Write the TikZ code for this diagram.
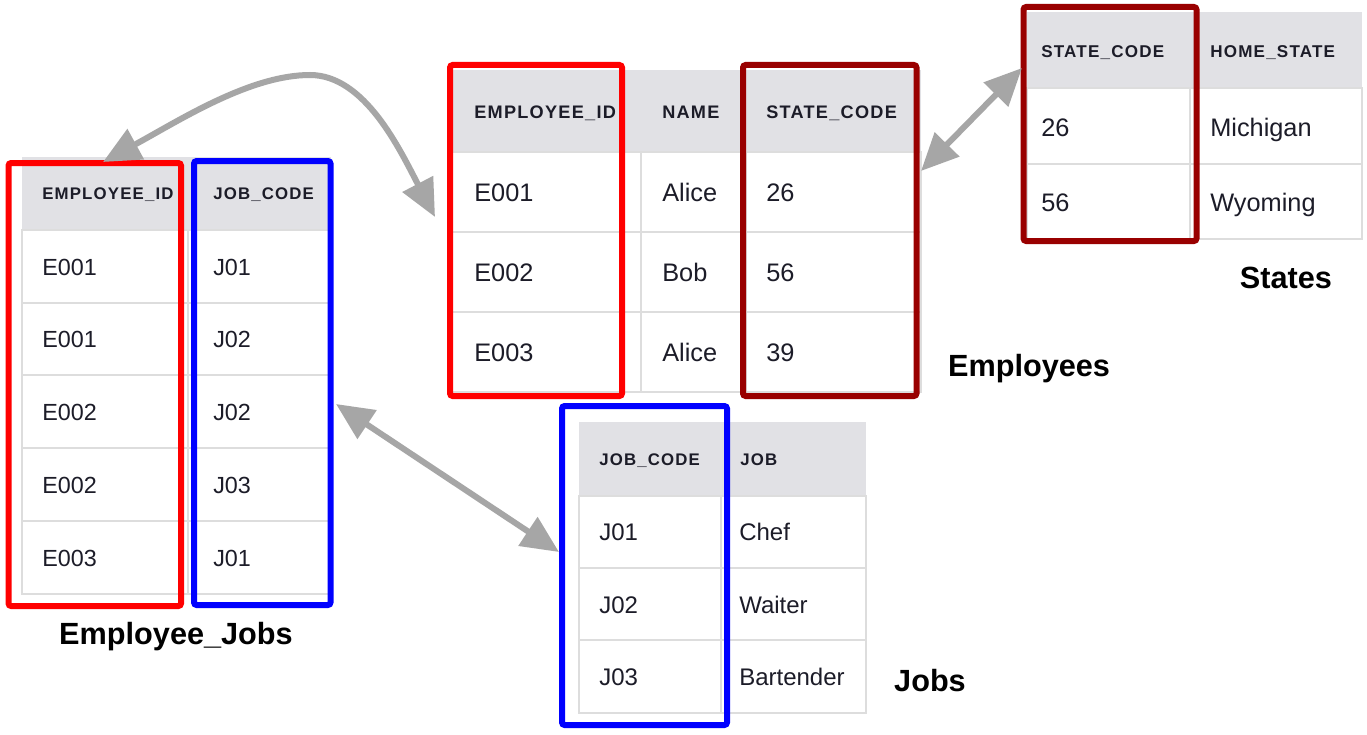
\documentclass[tikz,border=0pt]{standalone}
\usepackage{fontspec}
\setmainfont{Liberation Sans}
\newfontfamily\hdrfont[LetterSpace=7]{Liberation Sans}
\usetikzlibrary{arrows.meta}
\definecolor{hdrgrey}{HTML}{E1E1E5}
\definecolor{gridgrey}{HTML}{DDDDDD}
\definecolor{txt}{HTML}{1C1C28}
\definecolor{darkred}{HTML}{990000}
\definecolor{arrowgrey}{HTML}{A6A6A6}
\tikzset{
  cell/.style={anchor=base west, inner sep=0pt, text=txt},
  ejh/.style={cell, font=\hdrfont\bfseries\fontsize{12.6pt}{14pt}\selectfont},
  ejd/.style={cell, font=\fontsize{17.5pt}{20pt}\selectfont},
  emh/.style={cell, font=\hdrfont\bfseries\fontsize{13.6pt}{15pt}\selectfont},
  emd/.style={cell, font=\fontsize{19pt}{22pt}\selectfont},
  sth/.style={cell, font=\hdrfont\bfseries\fontsize{12.8pt}{14pt}\selectfont},
  std/.style={cell, font=\fontsize{19pt}{22pt}\selectfont},
  jbh/.style={cell, font=\hdrfont\bfseries\fontsize{12.6pt}{14pt}\selectfont},
  jbd/.style={cell, font=\fontsize{18pt}{21pt}\selectfont},
  tlabel/.style={anchor=base, inner sep=0pt, text=black, font=\bfseries\fontsize{23pt}{26pt}\selectfont},
  grid/.style={draw=gridgrey, line width=0.9pt},
  hl/.style={line width=4.5pt, rounded corners=2pt},
  conn/.style={draw=arrowgrey, line width=4.5pt,
    {Triangle[length=28pt,width=25pt]}-{Triangle[length=28pt,width=25pt]}},
}
\begin{document}
\begin{tikzpicture}[x=0.75pt,y=-0.75pt]
\useasboundingbox[fill=white] (0,0) rectangle (1367,735);

% ---------- Employee_Jobs table ----------
\fill[hdrgrey] (22,157) rectangle (331,230);
\draw[grid] (22,230) rectangle (331,594);
\foreach \yy in {303,375,448,521} \draw[grid] (22,\yy) -- (331,\yy);
\draw[grid] (188,230) -- (188,594);
\node[ejh] (ejh1) at (42,199) {EMPLOYEE\_ID};
\node[ejh] (ejh2) at (213,199) {JOB\_CODE};
\node[ejd] (ej11) at (42,275.4) {E001};  \node[ejd] (ej12) at (213,275.4) {J01};
\node[ejd] (ej21) at (42,347.4) {E001};  \node[ejd] (ej22) at (213,347.4) {J02};
\node[ejd] (ej31) at (42,420.4) {E002};  \node[ejd] (ej32) at (213,420.4) {J02};
\node[ejd] (ej41) at (42,493.4) {E002};  \node[ejd] (ej42) at (213,493.4) {J03};
\node[ejd] (ej51) at (42,566.4) {E003};  \node[ejd] (ej52) at (213,566.4) {J01};

% ---------- Employees table ----------
\fill[hdrgrey] (452,70) rectangle (921,152);
\draw[grid] (452,152) rectangle (921,392);
\foreach \yy in {232,312} \draw[grid] (452,\yy) -- (921,\yy);
\draw[grid] (641,152) -- (641,392);
\draw[grid] (746,152) -- (746,392);
\node[emh] (emh1) at (474,118.5) {EMPLOYEE\_ID};
\node[emh] (emh2) at (662,118.5) {NAME};
\node[emh] (emh3) at (766,118.5) {STATE\_CODE};
\node[emd] (em11) at (474,201.1) {E001}; \node[emd] (em12) at (662,201.1) {Alice}; \node[emd] (em13) at (766,201.1) {26};
\node[emd] (em21) at (474,281.1) {E002}; \node[emd] (em22) at (662,281.1) {Bob};   \node[emd] (em23) at (766,281.1) {56};
\node[emd] (em31) at (474,361.1) {E003}; \node[emd] (em32) at (662,361.1) {Alice}; \node[emd] (em33) at (766,361.1) {39};

% ---------- States table ----------
\fill[hdrgrey] (1027,12) rectangle (1362,88);
\draw[grid] (1027,88) rectangle (1362,239);
\draw[grid] (1027,164) -- (1362,164);
\draw[grid] (1190,88) -- (1190,239);
\node[sth] (sth1) at (1041,57.1) {STATE\_CODE};
\node[sth] (sth2) at (1210,57.1) {HOME\_STATE};
\node[std] (st11) at (1041,136.1) {26}; \node[std] (st12) at (1210,136.1) {Michigan};
\node[std] (st21) at (1041,211.1) {56}; \node[std] (st22) at (1210,211.1) {Wyoming};

% ---------- Jobs table ----------
\fill[hdrgrey] (579,422) rectangle (866,496);
\draw[grid] (579,496) rectangle (866,713);
\foreach \yy in {568,640} \draw[grid] (579,\yy) -- (866,\yy);
\draw[grid] (721,496) -- (721,713);
\node[jbh] (jbh1) at (599,465) {JOB\_CODE};
\node[jbh] (jbh2) at (740,465) {JOB};
\node[jbd] (jb11) at (599,540.6) {J01}; \node[jbd] (jb12) at (739,540.6) {Chef};
\node[jbd] (jb21) at (599,613.6) {J02}; \node[jbd] (jb22) at (739,613.6) {Waiter};
\node[jbd] (jb31) at (599,685.6) {J03}; \node[jbd] (jb32) at (739,685.6) {Bartender};

% ---------- highlight boxes ----------
\draw[hl, red] (8.5,163) rectangle (181,606);
\draw[hl, blue] (194,161) rectangle (330.5,605);
\draw[hl, red] (450,65) rectangle (622,396);
\draw[hl, darkred] (743,65) rectangle (916.5,396);
\draw[hl, darkred] (1023.5,7) rectangle (1196.5,241);
\draw[hl, blue] (562,406) rectangle (727,725);

% ---------- labels ----------
\node[tlabel] (lej) at (176,644) {Employee\_Jobs};
\node[tlabel] (lem) at (1029,376) {Employees};
\node[tlabel] (lst) at (1286,288) {States};
\node[tlabel] (ljb) at (930,691) {Jobs};

% ---------- connectors ----------
\coordinate (ejTop) at (103,162);
\coordinate (emLeft) at (435,217);
\coordinate (ejRight) at (336,404);
\coordinate (jbLeft) at (559,552);
\coordinate (emRight) at (921,171);
\coordinate (stLeft) at (1022,68);
\draw[conn] (ejTop) .. controls (180,120) and (250,75) .. (310,75)
                    .. controls (365,75) and (400,150) .. (emLeft);
\draw[conn] (ejRight) -- (jbLeft);
\draw[conn] (emRight) -- (stLeft);
\end{tikzpicture}
\end{document}
